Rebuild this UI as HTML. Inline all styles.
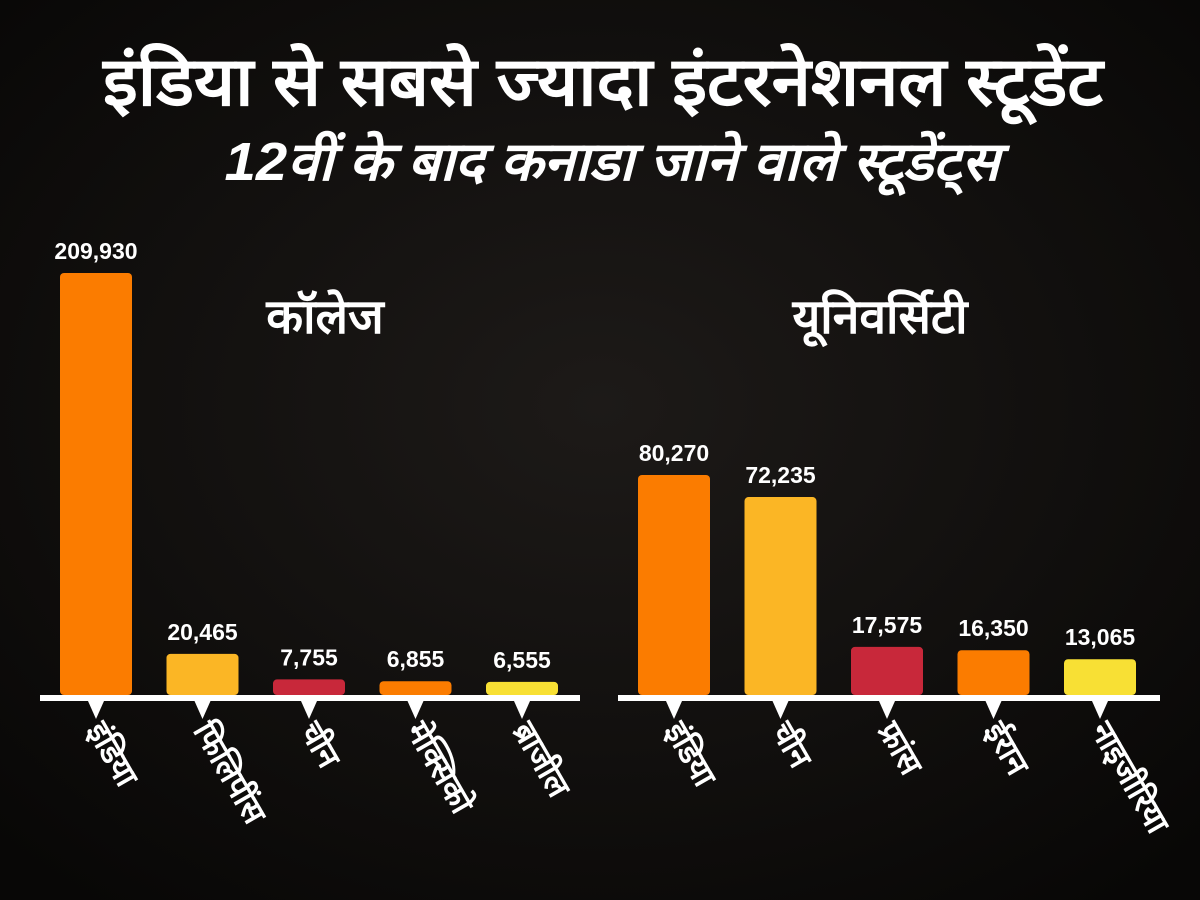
<!DOCTYPE html>
<html><head><meta charset="utf-8">
<style>
html,body{margin:0;padding:0;background:#0d0b0a;}
svg{display:block;}
text{font-family:"Liberation Sans","Noto Sans CJK SC",sans-serif;fill:#fff;}
</style></head>
<body>
<svg id="chart" width="1200" height="900" viewBox="0 0 1200 900">
<defs>
<radialGradient id="bg" cx="50%" cy="45%" r="70%">
<stop offset="0" stop-color="#1d1a18"/><stop offset="1" stop-color="#080706"/>
</radialGradient>
</defs>
<rect width="1200" height="900" fill="url(#bg)"/>
<text x="603" y="105" text-anchor="middle" font-size="68" font-weight="bold" textLength="1000" lengthAdjust="spacingAndGlyphs">इंडिया से सबसे ज्यादा इंटरनेशनल स्टूडेंट</text>
<text x="612" y="180" text-anchor="middle" font-size="54" font-weight="bold" font-style="italic" textLength="775" lengthAdjust="spacingAndGlyphs">12वीं के बाद कनाडा जाने वाले स्टूडेंट्स</text>
<text x="325" y="333" text-anchor="middle" font-size="48" font-weight="bold">कॉलेज</text>
<text x="880" y="333" text-anchor="middle" font-size="48" font-weight="bold">यूनिवर्सिटी</text>
<g id="plots"></g>
</svg>
<script>
const collegeCategories = ["इंडिया","फिलिपींस","चीन","मेक्सिको","ब्राजील"];
const collegeValues = [209930, 20465, 7755, 6855, 6555];
const collegeLabels = ["209,930","20,465","7,755","6,855","6,555"];
const universityCategories = ["इंडिया","चीन","फ्रांस","ईरान","नाइजीरिया"];
const universityValues = [80270, 72235, 17575, 16350, 13065];
const universityLabels = ["80,270","72,235","17,575","16,350","13,065"];
const collegeColors = ["#fb7c00","#fbb625","#c8283a","#fb7c00","#f8e034"];
const universityColors = ["#fb7c00","#fbb625","#c8283a","#fb7c00","#f8e034"];

const NS = "http://www.w3.org/2000/svg";
const g = document.getElementById("plots");
function mk(tag, attrs){const e=document.createElementNS(NS,tag);for(const k in attrs)e.setAttribute(k,attrs[k]);g.appendChild(e);return e;}

function panel(name, cats, vals, labels, colors, x0, x1, pxPerUnit){
  const base = 695;
  const axis = mk("rect",{x:x0,y:base,width:x1-x0,height:6,fill:"#fff"});
  
  
  const step = 106.5, bw = 72;
  const yScale = v => base - v*pxPerUnit;
  cats.forEach((c,i)=>{
    const cx = x0 + 56 + i*step;
    const y = yScale(vals[i]);
    const bar = mk("rect",{x:cx-bw/2,y:y,width:bw,height:base-y,rx:4,fill:colors[i]});
    
    
    const vl = mk("text",{x:cx,y:y-14,"text-anchor":"middle","font-size":23,"font-weight":"bold"});
    vl.textContent = labels[i];
    
    
    const tri = mk("polygon",{points:`${cx-8},701 ${cx+8},701 ${cx},719`,fill:"#fff"});
    
    
    const cl = mk("text",{x:0,y:0,"font-size":32,"font-weight":"bold",transform:`translate(${cx-10},${730}) rotate(60)`});
    cl.textContent = c;
    
    
  });
}
panel("college", collegeCategories, collegeValues, collegeLabels, collegeColors, 40, 580, 422/209930);
panel("university", universityCategories, universityValues, universityLabels, universityColors, 618, 1160, 220/80270);
</script>
</body></html>
